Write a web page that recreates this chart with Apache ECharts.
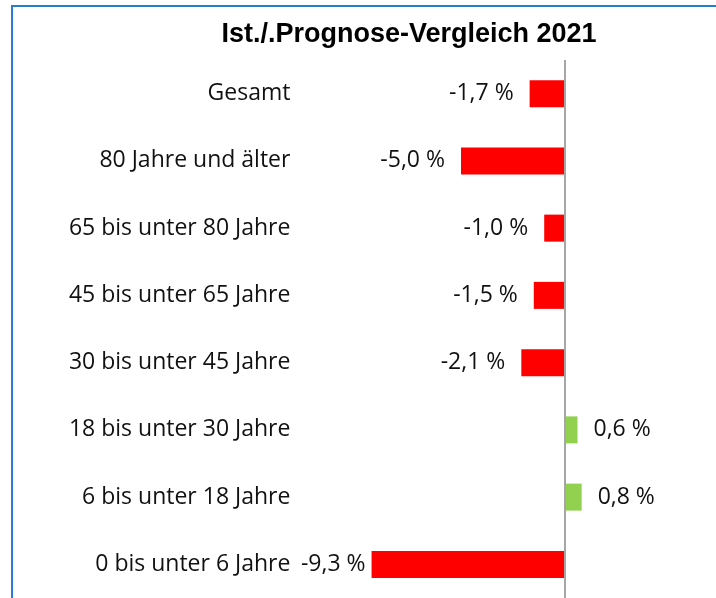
<!DOCTYPE html>
<html>
<head>
<meta charset="utf-8">
<script src="https://cdn.jsdelivr.net/npm/echarts@6/dist/echarts.min.js"></script>
<style>
  html, body { margin: 0; padding: 0; background: #fff; }
  #frame {
    position: absolute; left: 11px; top: 5px; width: 705px; height: 593px;
    border-top: 2px solid #2a7bd5; border-left: 2px solid #2a7bd5;
  }
  #chart { position: absolute; left: 0; top: 0; width: 716px; height: 598px; }
</style>
</head>
<body>
<div id="frame"></div>
<div id="chart"></div>
<script>
  // Altersgruppen, von oben nach unten
  const categories = ['Gesamt', '80 Jahre und älter', '65 bis unter 80 Jahre', '45 bis unter 65 Jahre',
    '30 bis unter 45 Jahre', '18 bis unter 30 Jahre', '6 bis unter 18 Jahre', '0 bis unter 6 Jahre'];
  // Abweichung Ist zu Prognose in %
  const deviation = [-1.7, -5.0, -1.0, -1.5, -2.1, 0.6, 0.8, -9.3];
  const title = 'Ist./.Prognose-Vergleich 2021';

  const red = '#ff0000';
  const green = '#92d050';
  const labelFont = '"Open Sans", Lato, sans-serif';

  let chart = echarts.init(document.getElementById('chart'), null, {renderer: 'canvas'});

  let seriesData = deviation.map(function (v, i) {
    let neg = v < 0;
    return {
      value: v,
      itemStyle: {color: neg ? red : green},
      label: {
        position: neg ? 'left' : 'right',
        distance: categories[i] === '0 bis unter 6 Jahre' ? 6 : 16
      }
    };
  });

  let option = {
    animation: false,
    title: {
      text: title,
      left: 404,
      top: 16,
      textAlign: 'center',
      textStyle: {fontFamily: '"Liberation Sans", Arial, sans-serif', fontSize: 27, fontWeight: 'bold', color: '#000'}
    },
    grid: {left: 315.4, right: 26.2, top: 60, bottom: 0, containLabel: false},
    xAxis: {
      type: 'value',
      min: -12,
      max: 6,
      show: false
    },
    yAxis: {
      type: 'category',
      inverse: true,
      data: categories,
      axisLine: {show: false},
      axisTick: {show: false},
      splitLine: {show: false},
      axisLabel: {margin: 25, fontFamily: labelFont, fontSize: 23, color: '#111', padding: [4, 0, 0, 0]}
    },
    series: [{
      type: 'bar',
      barWidth: 27,
      data: seriesData,
      label: {
        show: true,
        fontFamily: labelFont,
        fontSize: 23,
        color: '#111',
        padding: [4, 0, 0, 0],
        formatter: function (p) {
          return p.value.toFixed(1).replace('.', ',') + ' %';
        }
      },
      markLine: {
        silent: true,
        symbol: 'none',
        label: {show: false},
        lineStyle: {color: '#a6a6a6', width: 2, type: 'solid'},
        data: [{xAxis: 0}]
      }
    }]
  };
  chart.setOption(option);
</script>
</body>
</html>
